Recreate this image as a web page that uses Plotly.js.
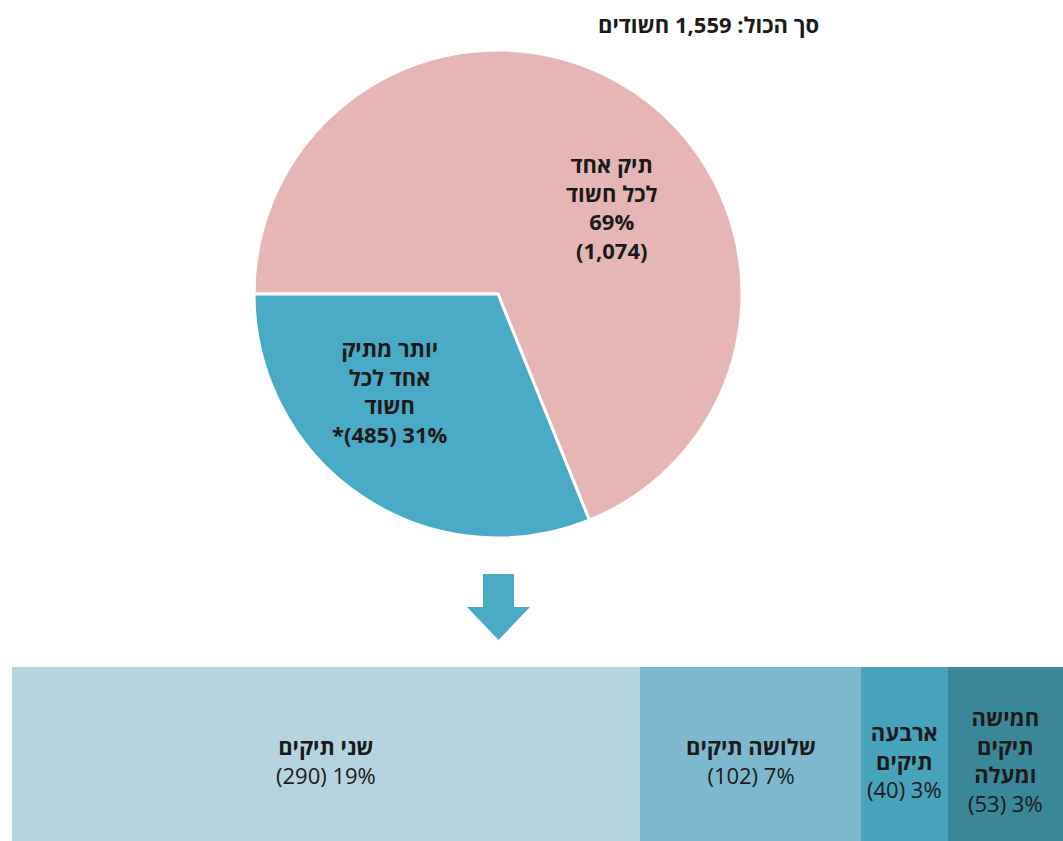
<!DOCTYPE html>
<html>
<head>
<meta charset="utf-8">
<script src="https://cdn.plot.ly/plotly-3.0.1.min.js"></script>
<style>html,body{margin:0;padding:0;background:#fff;}#chart{width:1063px;height:841px;}</style>
</head>
<body>
<div id="chart"></div>
<script>
// ---- data ----
const totalSuspects = 1559;
const titleWords = ['סך הכול:', 'חשודים'];
const pieLabelLines = [['תיק אחד', 'לכל חשוד'], ['יותר מתיק', 'אחד לכל', 'חשוד']];
const pieValues = [1074, 485];
const piePercents = [69, 31];
const pieColors = ['#E6B6B7', '#4AABC6'];
const barLabelLines = [['שני תיקים'], ['שלושה תיקים'], ['ארבעה', 'תיקים'], ['חמישה', 'תיקים', 'ומעלה']];
const barValues = [290, 102, 40, 53];
const barPercents = [19, 7, 3, 3];
const barColors = ['#B6D4DF', '#7DB8CE', '#47A2BB', '#3A8799'];

const W = 1063, H = 841;
const FONT = 'Open Sans, Liberation Sans, DejaVu Sans, sans-serif';
const TXT = '#1a1a1a';
const fmt = n => n.toLocaleString('en-US');
const px = x => x / W;
const py = y => 1 - y / H;

const traces = [];
traces.push({
  type: 'pie',
  values: pieValues,
  labels: pieLabelLines.map(l => l.join(' ')),
  sort: false,
  direction: 'clockwise',
  rotation: 270,
  textinfo: 'none',
  hoverinfo: 'none',
  marker: {colors: pieColors, line: {color: '#ffffff', width: 3}},
  domain: {x: [px(254), px(742)], y: [py(538), py(50)]},
  showlegend: false
});
barValues.forEach((v, i) => {
  traces.push({
    type: 'bar', orientation: 'h', y: [0], x: [v], width: 1,
    marker: {color: barColors[i], line: {width: 0}},
    hoverinfo: 'none', showlegend: false
  });
});

const annotations = [];
annotations.push({
  xref: 'paper', yref: 'paper', x: px(708), y: py(24), xanchor: 'center', yanchor: 'middle',
  text: '<b>' + titleWords[0] + ' ' + fmt(totalSuspects) + ' ' + titleWords[1] + '</b>',
  showarrow: false, font: {family: FONT, size: 22, color: TXT}
});
// pie labels
annotations.push({
  xref: 'paper', yref: 'paper', x: px(611), y: py(207), xanchor: 'center', yanchor: 'middle',
  text: '<b>' + pieLabelLines[0].join('<br>') + '<br>' + piePercents[0] + '%<br>(' + fmt(pieValues[0]) + ')</b>',
  showarrow: false, font: {family: FONT, size: 22, color: TXT}
});
annotations.push({
  xref: 'paper', yref: 'paper', x: px(390), y: py(391), xanchor: 'center', yanchor: 'middle',
  text: '<b>' + pieLabelLines[1].join('<br>') + '<br>*(' + fmt(pieValues[1]) + ') ' + piePercents[1] + '%</b>',
  showarrow: false, font: {family: FONT, size: 22, color: TXT}
});
// bar labels
let cum = 0;
barValues.forEach((v, i) => {
  annotations.push({
    xref: 'x', yref: 'y', x: cum + v / 2, y: 0, xanchor: 'center', yanchor: 'middle',
    text: '<b>' + barLabelLines[i].join('<br>') + '</b><br>(' + fmt(v) + ') ' + barPercents[i] + '%',
    showarrow: false, font: {family: FONT, size: 22, color: TXT}
  });
  cum += v;
});

// arrow shape
const arrowPts = [[483, 574], [514, 574], [514, 607], [530, 607], [498.5, 640], [467, 607], [483, 607]];
const arrowPath = 'M ' + arrowPts.map(p => px(p[0]).toFixed(5) + ',' + py(p[1]).toFixed(5)).join(' L ') + ' Z';

const barTotal = barValues.reduce((a, b) => a + b, 0);
const layout = {
  width: W, height: H,
  margin: {l: 0, r: 0, t: 0, b: 0},
  paper_bgcolor: '#ffffff', plot_bgcolor: '#ffffff',
  barmode: 'stack',
  bargap: 0,
  xaxis: {domain: [px(12), 1], range: [0, barTotal], visible: false, fixedrange: true},
  yaxis: {domain: [0, py(667)], range: [-0.435, 0.5], visible: false, fixedrange: true},
  shapes: [{type: 'path', xref: 'paper', yref: 'paper', path: arrowPath, fillcolor: '#4AABC6', line: {width: 0}}],
  annotations: annotations,
  font: {family: FONT}
};
Plotly.newPlot('chart', traces, layout, {displayModeBar: false, staticPlot: true});
</script>
</body>
</html>
